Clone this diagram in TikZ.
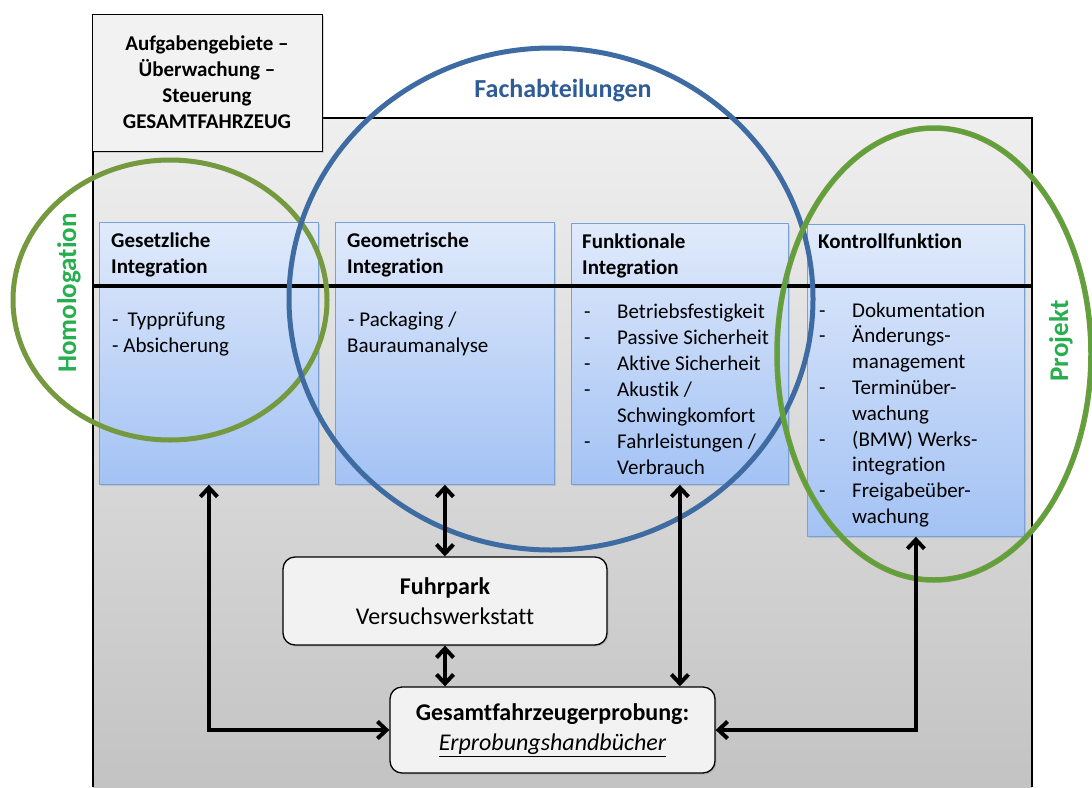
\documentclass[tikz,border=0pt]{standalone}
\usepackage{fontspec}
\setmainfont{Carlito}[Ligatures=NoCommon]
\usetikzlibrary{arrows.meta,shadows,calc}

\definecolor{panelTop}{HTML}{EFEFEF}
\definecolor{panelBot}{HTML}{C3C3C3}
\definecolor{boxTop}{HTML}{E0EAFB}
\definecolor{boxBot}{HTML}{A3C2F4}
\definecolor{boxLine}{HTML}{7AA1D6}
\definecolor{lightFill}{HTML}{F2F2F2}
\definecolor{ringBlue}{HTML}{3F6BA3}
\definecolor{ringOlive}{HTML}{74993E}
\definecolor{ringGreen}{HTML}{4FA83A}
\definecolor{labelGreen}{HTML}{27AE4F}
\definecolor{labelBlue}{HTML}{2F5B96}

\tikzset{
  colbox/.style={draw=boxLine, line width=0.8pt, top color=boxTop, bottom color=boxBot,
    minimum width=219pt, anchor=north west, inner sep=0pt,
    drop shadow={opacity=0.25, shadow xshift=1.5pt, shadow yshift=-1.5pt}},
  headbox/.style={draw=black, line width=0.9pt, fill=lightFill, align=center,
    font=\fontsize{21}{26}\selectfont\bfseries, inner sep=0pt,
    drop shadow={opacity=0.3, shadow xshift=2pt, shadow yshift=-2pt}},
  roundbox/.style={draw=black, line width=1.3pt, fill=lightFill, rounded corners=12pt,
    align=center, font=\fontsize{24}{30}\selectfont, inner sep=0pt,
    drop shadow={opacity=0.25, shadow xshift=1.5pt, shadow yshift=-1.5pt}},
  coltitle/.style={anchor=base west, inner sep=0pt, font=\fontsize{21}{26}\selectfont\bfseries},
  colbody/.style={anchor=base west, inner sep=0pt, font=\fontsize{21}{26}\selectfont},
  ringlabel/.style={anchor=base, inner sep=0pt, font=\fontsize{27}{32}\selectfont\bfseries},
  arr/.style={line width=4pt,
    {Straight Barb[length=9pt,width=17pt]}-{Straight Barb[length=9pt,width=17pt]}},
}

\begin{document}
\begin{tikzpicture}[x=1pt,y=-1pt]
\useasboundingbox (0,0) rectangle (1092,787);

% grey working area with open bottom edge
\shade[top color=panelTop, bottom color=panelBot] (93,118) rectangle (1032,787);
\draw[line width=1.2pt] (93,787) -- (93,118) -- (1032,118) -- (1032,787);

% heading box in the upper left corner
\node[headbox, minimum width=230pt, minimum height=137pt] (head) at (207,82.5)
  {Aufgabengebiete --\\Überwachung --\\Steuerung\\GESAMTFAHRZEUG};

% the four task columns
\node[colbox, minimum height=262pt] (b1) at (99,222) {};
\node[colbox, minimum height=262pt] (b2) at (335,222) {};
\node[colbox, minimum height=261pt, minimum width=217pt] (b3) at (571,223) {};
\node[colbox, minimum height=312pt, minimum width=217pt] (b4) at (807,224) {};

% column headings
\node[coltitle] (t1a) at (111,247) {Gesetzliche};
\node[coltitle] (t1b) at (111,273) {Integration};
\node[coltitle] (t2a) at (347,247) {Geometrische};
\node[coltitle] (t2b) at (347,273) {Integration};
\node[coltitle] (t3a) at (582,248) {Funktionale};
\node[coltitle] (t3b) at (582,274) {Integration};
\node[coltitle] (t4a) at (818,248) {Kontrollfunktion};

% separator between headings and contents
\draw[line width=4pt] (93,286) -- (1032,286);

% column contents
\node[colbody] (c1a) at (112,326) {-\hspace{9pt}Typprüfung};
\node[colbody] (c1b) at (112,352) {- Absicherung};
\node[colbody] (c2a) at (348,326) {- Packaging /};
\node[colbody] (c2b) at (347,352) {Bauraumanalyse};

\foreach \d/\t [count=\i] in {{-}/{Betriebsfestigkeit}, {-}/{Passive Sicherheit},
    {-}/{Aktive Sicherheit}, {-}/{Akustik /}, {}/{Schwingkomfort},
    {-}/{Fahrleistungen /}, {}/{Verbrauch}}{
  \node[colbody] (c3d\i) at (584,{318+26*(\i-1)}) {\d};
  \node[colbody] (c3t\i) at (617,{318+26*(\i-1)}) {\t};
}

\foreach \d/\t [count=\i] in {{-}/{Dokumentation}, {-}/{Änderungs-}, {}/{management},
    {-}/{Terminüber-}, {}/{wachung}, {-}/{(BMW) Werks-}, {}/{integration},
    {-}/{Freigabeüber-}, {}/{wachung}}{
  \node[colbody] (c4d\i) at (819,{317+25.8*(\i-1)}) {\d};
  \node[colbody] (c4t\i) at (852,{317+25.8*(\i-1)}) {\t};
}

% responsibility rings
\draw[ringOlive, line width=5pt] (170,300) ellipse [x radius=157, y radius=140];
\draw[ringBlue, line width=5pt] (551,299) ellipse [x radius=262, y radius=251];
\draw[ringOlive, line width=5.5pt] (934,354) ellipse [x radius=157, y radius=226];
\draw[ringGreen, line width=1.8pt] (934,354) ellipse [x radius=157, y radius=226];

\node[ringlabel, text=labelBlue, font=\fontsize{26}{30}\selectfont\bfseries] (lfach) at (563,97) {Fachabteilungen};
\node[ringlabel, text=labelGreen, rotate=90] (lhom) at (76,293) {Homologation};
\node[ringlabel, text=labelGreen, rotate=90] (lproj) at (1068,341) {Projekt};

% vehicle pool and overall testing
\node[roundbox, minimum width=324pt, minimum height=88pt] (fuhr) at (445,601)
  {\textbf{Fuhrpark}\\Versuchswerkstatt};
\node[roundbox, minimum width=325pt, minimum height=86pt] (ges) at (552.5,730)
  {\textbf{Gesamtfahrzeugerprobung:}\\\textit{\underline{Erprobungshandbücher}}};

% information flows
\draw[arr] (b1.south) |- (ges.west);
\draw[arr] (b2.south) -- (b2.south |- fuhr.north);
\draw[arr] (fuhr.south) -- (fuhr.south |- ges.north);
\draw[arr] (b3.south) -- (b3.south |- ges.north);
\draw[arr] (b4.south) |- (ges.east);

\end{tikzpicture}
\end{document}
